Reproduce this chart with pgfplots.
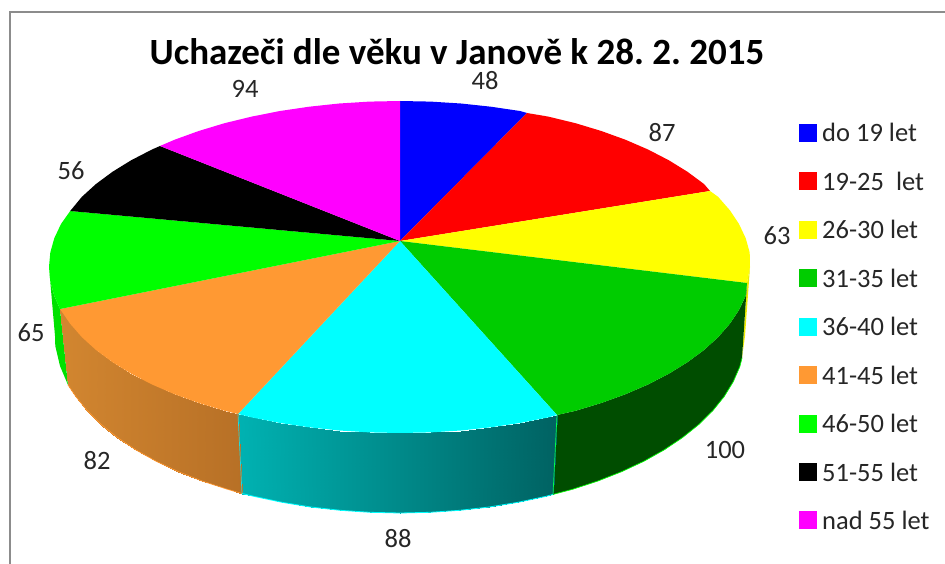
\documentclass[border=0pt]{standalone}
\usepackage{pgfplots}
\pgfplotsset{compat=1.18}
\usepackage{fontspec}
\setmainfont{Carlito}
\frenchspacing
\definecolor{cBlue}{RGB}{0,0,255}
\definecolor{cRed}{RGB}{255,0,0}
\definecolor{cYellow}{RGB}{255,255,0}
\definecolor{cDGreen}{RGB}{0,204,0}
\definecolor{cCyan}{RGB}{0,255,255}
\definecolor{cOrange}{RGB}{255,153,51}
\definecolor{cGreen}{RGB}{0,255,0}
\definecolor{cMag}{RGB}{255,0,255}
\definecolor{txt}{RGB}{38,38,38}
\definecolor{wSliverG}{RGB}{0,225,0}
\definecolor{wSliverY}{RGB}{235,235,0}
\definecolor{wDark}{RGB}{0,77,0}
\pgfplotsset{
  colormap={wallcyan}{rgb255=(0,178,178) rgb255=(0,98,98)},
  colormap={wallorange}{rgb255=(210,134,48) rgb255=(183,112,38)},
  slice/.style={fill=#1,draw=none,forget plot},
  leg/.style={only marks,mark=square*,mark size=8.5pt,mark options={fill=#1,draw=#1,line width=0pt},forget plot}
}
\tikzset{lab/.style={font=\fontsize{26.5}{26.5}\selectfont,text=txt,inner sep=0pt}}
\begin{document}
\begin{tikzpicture}
\useasboundingbox (0,0) rectangle (945pt,564pt);
\begin{axis}[at={(0,0)},anchor=south west,scale only axis,width=945pt,height=564pt,
  xmin=0,xmax=945,ymin=0,ymax=564,y dir=reverse,hide axis,clip=true]
% frame
\addplot[color=gray!90,line width=2pt,forget plot] coordinates {(10,564) (10,12) (945,12)};
% side slivers
\addplot[slice=wSliverG] coordinates {(60,309)(54.3,295.8)(50.3,281.5)(49,267)(55,336)(55.3,346)(60,366)(68,385)};
\addplot[slice=wSliverY] coordinates {(747,283)(750,267)(745,336)(742,358)};
% dark green wall
\addplot[slice=wDark] coordinates {(747,283)(745.7,295.8)(739,310)(729.8,323.8)(718.1,337.2)(704,350)(687.5,362.2)(668.9,373.7)(648.2,384.4)(625.6,394.2)(601.3,403)(575.5,410.8)(557,415)(553,494.4)(572.5,489.3)(597.9,481)(621.8,471.6)(644,461.2)(664.3,449.8)(682.6,437.5)(698.8,424.5)(712.7,410.8)(724.2,396.5)(733.2,381.8)(739.8,366.7)(742,358)};
% cyan wall
\addplot[surf,shader=interp,colormap name=wallcyan,mesh/cols=2,point meta=x,point meta rel=per plot,forget plot] table {
x y
238 414
242 493.5
251.7 417.4
254.2 496.4
280 423
282 502.3
309.2 427.3
310.7 507
339.1 430.5
340.1 510.3
369.4 432.4
369.9 512.3
400 433
400 513
430.6 432.4
430.1 512.3
460.9 430.5
459.9 510.3
490.8 427.3
489.3 507
520 423
518 502.3
548.3 417.4
545.8 496.4
557 415
553 494.4
};
% orange wall
\addplot[surf,shader=interp,colormap name=wallorange,mesh/cols=2,point meta=x,point meta rel=per plot,forget plot] table {
x y
60 309
68 385
70.2 323.8
75.8 396.5
81.9 337.2
87.3 410.8
96 350
101.2 424.5
112.5 362.2
117.4 437.5
131.1 373.7
135.7 449.8
151.8 384.4
156 461.2
174.4 394.2
178.2 471.6
198.7 403
202.1 481
224.5 410.8
227.5 489.3
238 414
242 493.5
};
% bright edges
\addplot[color=cGreen,line width=0.7pt,forget plot] coordinates {(553,494.4)(572.5,489.3)(597.9,481)(621.8,471.6)(644,461.2)(664.3,449.8)(682.6,437.5)(698.8,424.5)(712.7,410.8)(724.2,396.5)(733.2,381.8)(739.8,366.7)(742,358)};
\addplot[color=cCyan,line width=0.8pt,forget plot] coordinates {(242,493.5)(254.2,496.4)(282,502.3)(310.7,507)(340.1,510.3)(369.9,512.3)(400,513)(430.1,512.3)(459.9,510.3)(489.3,507)(518,502.3)(545.8,496.4)(553,494.4)};
\addplot[color=cOrange,line width=0.7pt,forget plot] coordinates {(68,385)(75.8,396.5)(87.3,410.8)(101.2,424.5)(117.4,437.5)(135.7,449.8)(156,461.2)(178.2,471.6)(202.1,481)(227.5,489.3)(242,493.5)};
\addplot[color=cCyan!70!gray,line width=0.7pt,forget plot] coordinates {(238,414)(242,493.5)};
\addplot[color=cGreen!70!cyan,line width=0.7pt,forget plot] coordinates {(557,415)(553,494.4)};
% top face
\addplot[slice=cBlue] coordinates {(400,241)(400,101)(430.6,101.6)(460.9,103.5)(490.8,106.7)(520,111)(527,113)};
\addplot[slice=cRed] coordinates {(400,241)(527,113)(548.3,116.6)(575.5,123.2)(601.3,131)(625.6,139.8)(648.2,149.6)(668.9,160.3)(687.5,171.8)(704,184)(710,191)};
\addplot[slice=cYellow] coordinates {(400,241)(710,191)(718.1,196.8)(729.8,210.2)(739,224)(745.7,238.2)(749.7,252.5)(750,267)(747,283)};
\addplot[slice=cDGreen] coordinates {(400,241)(747,283)(745.7,295.8)(739,310)(729.8,323.8)(718.1,337.2)(704,350)(687.5,362.2)(668.9,373.7)(648.2,384.4)(625.6,394.2)(601.3,403)(575.5,410.8)(557,415)};
\addplot[slice=cCyan] coordinates {(400,241)(557,415)(548.3,417.4)(520,423)(490.8,427.3)(460.9,430.5)(430.6,432.4)(400,433)(369.4,432.4)(339.1,430.5)(309.2,427.3)(280,423)(251.7,417.4)(238,414)};
\addplot[slice=cOrange] coordinates {(400,241)(238,414)(224.5,410.8)(198.7,403)(174.4,394.2)(151.8,384.4)(131.1,373.7)(112.5,362.2)(96,350)(81.9,337.2)(70.2,323.8)(60,309)};
\addplot[slice=cGreen] coordinates {(400,241)(60,309)(54.3,295.8)(50.3,281.5)(49,267)(50.3,252.5)(54.3,238.2)(61,224)(70.2,211)};
\addplot[slice=black] coordinates {(400,241)(70.2,211)(81.9,196.8)(96,184)(112.5,171.8)(131.1,160.3)(151.8,149.6)(160,146)};
\addplot[slice=cMag] coordinates {(400,241)(160,146)(174.4,139.8)(198.7,131)(224.5,123.2)(251.7,116.6)(280,111)(309.2,106.7)(339.1,103.5)(369.4,101.6)(400,101)};
% legend keys
\addplot[leg=cBlue] coordinates {(807.5,132.7)};
\addplot[leg=cRed] coordinates {(807.5,181)};
\addplot[leg=cYellow] coordinates {(807.5,230)};
\addplot[leg=cDGreen] coordinates {(807.5,278)};
\addplot[leg=cCyan] coordinates {(807.5,326.5)};
\addplot[leg=cOrange] coordinates {(807.5,375)};
\addplot[leg=cGreen] coordinates {(807.5,423.5)};
\addplot[leg=black] coordinates {(807.5,472)};
\addplot[leg=cMag] coordinates {(807.5,520)};
% legend text
\node[lab,anchor=west] at (axis cs:822,132.7) {do 19 let};
\node[lab,anchor=west] at (axis cs:822,181) {19-25\ \ let};
\node[lab,anchor=west] at (axis cs:822,229) {26-30 let};
\node[lab,anchor=west] at (axis cs:822,278) {31-35 let};
\node[lab,anchor=west] at (axis cs:822,326.5) {36-40 let};
\node[lab,anchor=west] at (axis cs:822,375) {41-45 let};
\node[lab,anchor=west] at (axis cs:822,423.5) {46-50 let};
\node[lab,anchor=west] at (axis cs:822,472) {51-55 let};
\node[lab,anchor=west] at (axis cs:822,520) {nad 55 let};
% data labels
\node[lab] at (axis cs:485,81) {48};
\node[lab] at (axis cs:662,133) {87};
\node[lab] at (axis cs:777,236) {63};
\node[lab] at (axis cs:725,450) {100};
\node[lab] at (axis cs:398,539) {88};
\node[lab] at (axis cs:97,461) {82};
\node[lab] at (axis cs:31,333) {65};
\node[lab] at (axis cs:71,171) {56};
\node[lab] at (axis cs:245,89) {94};
% title
\node[inner sep=0pt,font=\fontsize{37}{37}\selectfont\bfseries] at (axis cs:457,52) {Uchazeči dle věku v Janově k 28. 2. 2015};
\end{axis}
\end{tikzpicture}
\end{document}
